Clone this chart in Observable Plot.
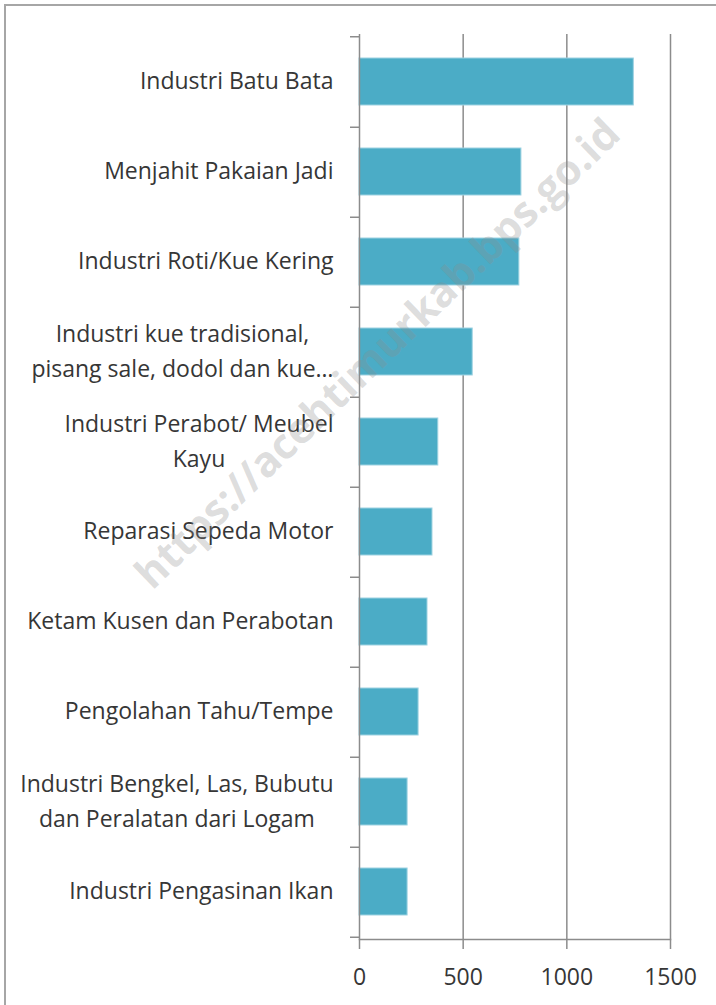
<!DOCTYPE html>
<html><head><meta charset="utf-8">
<script src="https://cdn.jsdelivr.net/npm/d3@7"></script>
<script src="https://cdn.jsdelivr.net/npm/@observablehq/plot@0.6"></script>
<style>
html,body{margin:0;padding:0;background:#fff;}
#wrap{position:relative;width:716px;height:1005px;overflow:hidden;}
#frame{position:absolute;left:4px;top:4px;right:-10px;bottom:-10px;border-top:2px solid #a6a6a6;border-left:2px solid #a6a6a6;}
#chart{position:absolute;left:0;top:0;}
#wm{position:absolute;left:376px;top:352px;transform:translate(-50%,-50%) rotate(-44deg);font:bold 42px "Open Sans";color:rgba(140,140,140,0.3);white-space:nowrap;pointer-events:none;}
</style></head><body>
<div id="wrap"><div id="frame"></div><div id="chart"></div><div id="wm">https://acehtimurkab.bps.go.id</div></div>
<script>
const names = [
  "Industri Batu Bata",
  "Menjahit Pakaian Jadi",
  "Industri Roti/Kue Kering",
  "Industri kue tradisional,\npisang sale, dodol dan kue…",
  "Industri Perabot/ Meubel\nKayu",
  "Reparasi Sepeda Motor",
  "Ketam Kusen dan Perabotan",
  "Pengolahan Tahu/Tempe",
  "Industri Bengkel, Las, Bubutu\ndan Peralatan dari Logam",
  "Industri Pengasinan Ikan"
];
const values = [1323, 781, 771, 546, 380, 352, 328, 285, 232, 232];
const xTicks = [0, 500, 1000, 1500];

const data = names.map((name, i) => ({name, value: values[i]}));
const W = 716, H = 1005, mt = 34, mb = 66, ml = 359, mr = 46;
const step = (H - mt - mb) / names.length;
const axisColor = "#8c8c8c";
const textColor = "#363636";

const chart = Plot.plot({
  width: W, height: H,
  marginTop: mt, marginBottom: mb, marginLeft: ml, marginRight: mr,
  style: {background: "transparent", fontFamily: "'Open Sans'", fontSize: "23px", color: textColor, overflow: "visible"},
  x: {domain: [0, 1500]},
  y: {domain: names, paddingInner: 0.475, paddingOuter: 0.2375},
  marks: [
    Plot.ruleX(xTicks.slice(1), {stroke: axisColor, strokeWidth: 1.5}),
    Plot.barX(data, {x: "value", y: "name", fill: "#4bacc6", stroke: "#9dd2e1", strokeWidth: 1}),
    Plot.ruleX([0], {stroke: axisColor, strokeWidth: 1.5}),
    Plot.ruleY(names, {y: d => d, x1: 0, x2: 0, insetLeft: -9, dy: step / 2, stroke: axisColor, strokeWidth: 1.5}),
    Plot.ruleY(names.slice(0, 1), {y: d => d, x1: 0, x2: 0, insetLeft: -9, dy: -step / 2, stroke: axisColor, strokeWidth: 1.5}),
    Plot.frame({anchor: "bottom", stroke: axisColor, strokeWidth: 1.5}),
    Plot.axisX({ticks: xTicks, tickFormat: d => String(d), tickSize: 10, tickPadding: 19, stroke: axisColor, strokeWidth: 1.5, fontSize: 23, label: null}),
    Plot.axisY({tickSize: 0, tickPadding: 26, lineHeight: 1.52, fontSize: 23, dy: -4, label: null})
  ]
});
document.getElementById("chart").appendChild(chart);

// center multi-line labels within their right-aligned block (Excel style)
chart.querySelectorAll('g[aria-label="y-axis tick label"] text').forEach(t => {
  const spans = t.querySelectorAll("tspan");
  if (spans.length < 2) return;
  const widths = Array.from(spans, s => s.getComputedTextLength());
  const maxW = Math.max(...widths);
  spans.forEach((s, i) => s.setAttribute("x", -(maxW - widths[i]) / 2));
});
</script>
</body></html>
